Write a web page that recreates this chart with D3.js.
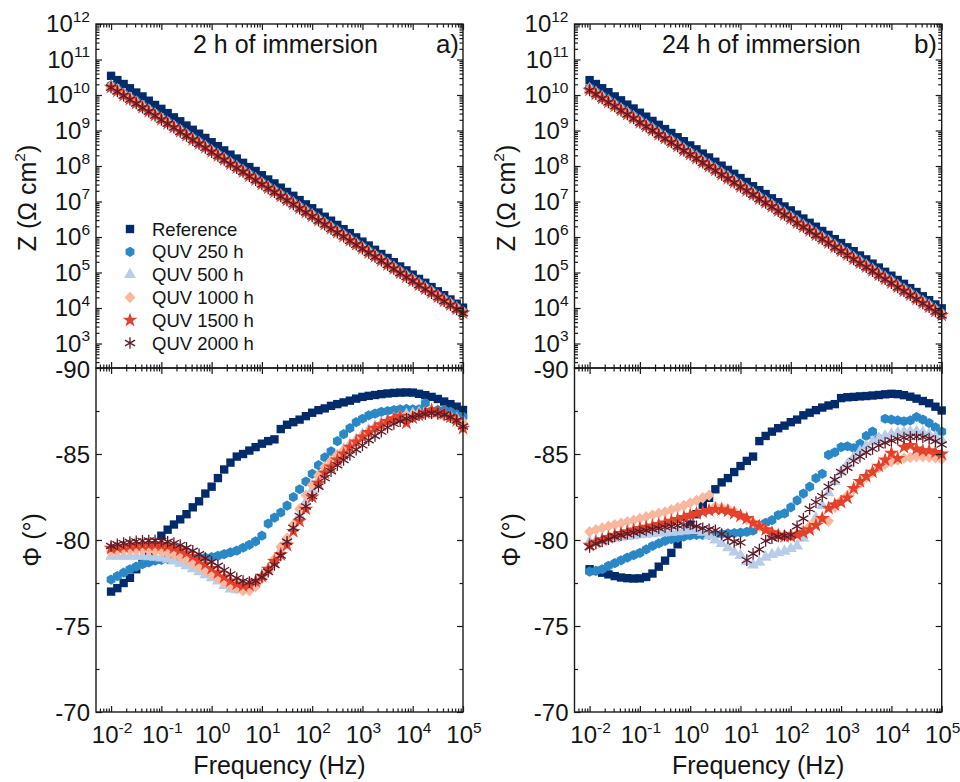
<!DOCTYPE html>
<html><head><meta charset="utf-8">
<script src="https://cdn.jsdelivr.net/npm/d3@7"></script>
<style>
body{margin:0;background:#fff}
svg{display:block}
text{font-family:"Liberation Sans",Arial,Helvetica,sans-serif;fill:#141414}
</style>
</head><body>
<svg id="c" width="960" height="782"></svg>
<script>
// ---------------- DATA ----------------
const freq = [0.01,0.01334,0.01778,0.02371,0.03162,0.04217,0.05623,0.07499,
  0.1,0.1334,0.1778,0.2371,0.3162,0.4217,0.5623,0.7499,
  1,1.334,1.778,2.371,3.162,4.217,5.623,7.499,
  10,13.34,17.78,23.71,31.62,42.17,56.23,74.99,
  100,133.4,177.8,237.1,316.2,421.7,562.3,749.9,
  1000,1334,1778,2371,3162,4217,5623,7499,
  10000,13340,17780,23710,31620,42170,56230,74990,100000];

const seriesNames = ["Reference","QUV 250 h","QUV 500 h","QUV 1000 h","QUV 1500 h","QUV 2000 h"];
const seriesColors = ["#022b6c","#2a88c6","#b9cde9","#f9b89e","#e4412b","#5e1a27"];

const panelTitles = ["2 h of immersion","24 h of immersion"];
const panelTags = ["a)","b)"];
const zTickExp = [3,4,5,6,7,8,9,10,11,12];
const phaseTicks = [-85,-80,-75,-70];
const freqTickExp = [-2,-1,0,1,2,3,4,5];

// log10 |Z| (Ohm cm2), panel a (2 h)
const logZ_a_ref  = [10.54,10.42,10.31,10.19,10.07,9.96,9.84,9.72,9.61,9.49,9.37,9.26,9.14,9.02,8.91,8.79,8.67,8.56,8.44,8.32,8.21,8.09,7.97,7.86,7.74,7.62,7.51,7.39,7.27,7.16,7.04,6.92,6.81,6.69,6.57,6.46,6.34,6.22,6.11,5.99,5.87,5.76,5.64,5.52,5.41,5.29,5.17,5.06,4.94,4.82,4.71,4.59,4.47,4.36,4.24,4.12,4.01];
const logZ_a_250  = [10.27,10.16,10.04,9.93,9.82,9.70,9.59,9.48,9.36,9.25,9.14,9.02,8.91,8.79,8.68,8.57,8.45,8.34,8.23,8.11,8.00,7.89,7.77,7.66,7.54,7.43,7.32,7.20,7.09,6.98,6.86,6.75,6.64,6.52,6.41,6.29,6.18,6.07,5.95,5.84,5.73,5.61,5.50,5.39,5.27,5.16,5.04,4.93,4.82,4.70,4.59,4.48,4.36,4.25,4.14,4.02,3.91];
const logZ_a_500  = [10.25,10.14,10.02,9.91,9.80,9.68,9.57,9.46,9.34,9.23,9.12,9.00,8.89,8.77,8.66,8.55,8.43,8.32,8.21,8.09,7.98,7.87,7.75,7.64,7.52,7.41,7.30,7.18,7.07,6.96,6.84,6.73,6.62,6.50,6.39,6.27,6.16,6.05,5.93,5.82,5.71,5.59,5.48,5.37,5.25,5.14,5.02,4.91,4.80,4.68,4.57,4.46,4.34,4.23,4.12,4.00,3.89];
const logZ_a_1000 = [10.24,10.13,10.01,9.90,9.79,9.67,9.56,9.45,9.33,9.22,9.11,8.99,8.88,8.76,8.65,8.54,8.42,8.31,8.20,8.08,7.97,7.86,7.74,7.63,7.51,7.40,7.29,7.17,7.06,6.95,6.83,6.72,6.61,6.49,6.38,6.26,6.15,6.04,5.92,5.81,5.70,5.58,5.47,5.36,5.24,5.13,5.01,4.90,4.79,4.67,4.56,4.45,4.33,4.22,4.11,3.99,3.88];
const logZ_a_1500 = [10.22,10.11,9.99,9.88,9.77,9.65,9.54,9.43,9.31,9.20,9.09,8.97,8.86,8.74,8.63,8.52,8.40,8.29,8.18,8.06,7.95,7.84,7.72,7.61,7.49,7.38,7.27,7.15,7.04,6.93,6.81,6.70,6.59,6.47,6.36,6.24,6.13,6.02,5.90,5.79,5.68,5.56,5.45,5.34,5.22,5.11,4.99,4.88,4.77,4.65,4.54,4.43,4.31,4.20,4.09,3.97,3.86];
const logZ_a_2000 = [10.21,10.10,9.98,9.87,9.76,9.64,9.53,9.42,9.30,9.19,9.08,8.96,8.85,8.73,8.62,8.51,8.39,8.28,8.17,8.05,7.94,7.83,7.71,7.60,7.48,7.37,7.26,7.14,7.03,6.92,6.80,6.69,6.58,6.46,6.35,6.23,6.12,6.01,5.89,5.78,5.67,5.55,5.44,5.33,5.21,5.10,4.98,4.87,4.76,4.64,4.53,4.42,4.30,4.19,4.08,3.96,3.85];

// log10 |Z|, panel b (24 h)
const logZ_b_ref  = [10.42,10.31,10.19,10.08,9.96,9.85,9.73,9.62,9.50,9.39,9.27,9.16,9.04,8.93,8.81,8.70,8.58,8.47,8.35,8.24,8.12,8.01,7.89,7.78,7.66,7.55,7.43,7.32,7.21,7.09,6.98,6.86,6.75,6.63,6.52,6.40,6.29,6.17,6.06,5.94,5.83,5.71,5.60,5.48,5.37,5.25,5.14,5.02,4.91,4.79,4.68,4.56,4.45,4.33,4.22,4.10,3.99];
const logZ_b_250  = [10.20,10.09,9.97,9.86,9.75,9.63,9.52,9.41,9.29,9.18,9.07,8.95,8.84,8.73,8.62,8.50,8.39,8.28,8.16,8.05,7.94,7.82,7.71,7.60,7.48,7.37,7.26,7.14,7.03,6.92,6.80,6.69,6.58,6.46,6.35,6.24,6.12,6.01,5.90,5.78,5.67,5.56,5.44,5.33,5.22,5.11,4.99,4.88,4.77,4.65,4.54,4.43,4.31,4.20,4.09,3.97,3.86];
const logZ_b_500  = [10.18,10.07,9.95,9.84,9.73,9.61,9.50,9.39,9.27,9.16,9.05,8.93,8.82,8.71,8.60,8.48,8.37,8.26,8.14,8.03,7.92,7.80,7.69,7.58,7.46,7.35,7.24,7.12,7.01,6.90,6.78,6.67,6.56,6.44,6.33,6.22,6.10,5.99,5.88,5.76,5.65,5.54,5.42,5.31,5.20,5.09,4.97,4.86,4.75,4.63,4.52,4.41,4.29,4.18,4.07,3.95,3.84];
const logZ_b_1000 = [10.16,10.05,9.93,9.82,9.71,9.59,9.48,9.37,9.25,9.14,9.03,8.91,8.80,8.69,8.58,8.46,8.35,8.24,8.12,8.01,7.90,7.78,7.67,7.56,7.44,7.33,7.22,7.10,6.99,6.88,6.76,6.65,6.54,6.42,6.31,6.20,6.08,5.97,5.86,5.74,5.63,5.52,5.40,5.29,5.18,5.07,4.95,4.84,4.73,4.61,4.50,4.39,4.27,4.16,4.05,3.93,3.82];
const logZ_b_1500 = [10.14,10.03,9.91,9.80,9.69,9.57,9.46,9.35,9.23,9.12,9.01,8.89,8.78,8.67,8.56,8.44,8.33,8.22,8.10,7.99,7.88,7.76,7.65,7.54,7.42,7.31,7.20,7.08,6.97,6.86,6.74,6.63,6.52,6.40,6.29,6.18,6.06,5.95,5.84,5.72,5.61,5.50,5.38,5.27,5.16,5.05,4.93,4.82,4.71,4.59,4.48,4.37,4.25,4.14,4.03,3.91,3.80];
const logZ_b_2000 = [10.13,10.02,9.90,9.79,9.68,9.56,9.45,9.34,9.22,9.11,9.00,8.88,8.77,8.66,8.55,8.43,8.32,8.21,8.09,7.98,7.87,7.75,7.64,7.53,7.41,7.30,7.19,7.07,6.96,6.85,6.73,6.62,6.51,6.39,6.28,6.17,6.05,5.94,5.83,5.71,5.60,5.49,5.37,5.26,5.15,5.04,4.92,4.81,4.70,4.58,4.47,4.36,4.24,4.13,4.02,3.90,3.79];

// phase angle (deg), panel a (2 h)
const phase_a_ref  = [-77.0,-77.2,-77.5,-77.8,-78.3,-78.8,-79.2,-79.6,-80.25,-80.6,-80.9,-81.2,-81.5,-81.9,-82.25,-82.7,-83.1,-83.6,-84.1,-84.5,-84.85,-85.0,-85.2,-85.4,-85.6,-85.75,-85.85,-86.45,-86.7,-86.85,-87.0,-87.2,-87.4,-87.55,-87.65,-87.8,-87.9,-88.0,-88.1,-88.22,-88.32,-88.38,-88.43,-88.48,-88.52,-88.55,-88.57,-88.58,-88.57,-88.5,-88.42,-88.32,-88.2,-88.05,-87.9,-87.75,-87.56];
const phase_a_250  = [-77.7,-77.9,-78.1,-78.3,-78.45,-78.6,-78.7,-78.8,-78.85,-78.9,-78.92,-78.93,-78.93,-78.94,-78.96,-78.98,-79.0,-79.08,-79.18,-79.28,-79.38,-79.55,-79.72,-79.92,-80.25,-80.95,-81.3,-81.6,-82.0,-82.5,-82.95,-83.4,-83.85,-84.35,-84.8,-85.15,-85.75,-86.15,-86.5,-86.85,-87.05,-87.25,-87.35,-87.45,-87.5,-87.55,-87.6,-87.62,-87.6,-87.6,-87.95,-87.5,-87.55,-87.55,-87.45,-87.3,-87.17];
const phase_a_500  = [-79.05,-79.05,-79.05,-79.05,-79.05,-79.05,-79.03,-79.0,-78.95,-78.88,-78.78,-78.65,-78.5,-78.33,-78.15,-77.97,-77.8,-77.62,-77.35,-77.15,-77.1,-77.15,-77.3,-77.55,-77.9,-78.3,-78.8,-79.4,-80.0,-80.7,-81.4,-82.2,-82.9,-83.5,-84.05,-84.5,-84.9,-85.25,-85.55,-85.85,-86.15,-86.4,-86.6,-86.8,-86.95,-87.1,-87.2,-87.3,-87.35,-87.4,-87.42,-87.4,-87.35,-87.28,-87.18,-87.05,-86.9];
const phase_a_1000 = [-79.33,-79.36,-79.39,-79.41,-79.42,-79.42,-79.4,-79.37,-79.33,-79.25,-79.15,-79.02,-78.85,-78.65,-78.45,-78.22,-78.0,-77.78,-77.55,-77.35,-77.18,-77.05,-77.05,-77.3,-77.75,-78.2,-78.9,-79.6,-80.1,-80.9,-81.8,-82.6,-83.2,-83.75,-84.25,-84.6,-84.95,-85.2,-85.45,-85.75,-86.05,-86.3,-86.5,-86.7,-86.9,-87.0,-87.1,-87.2,-87.3,-87.35,-87.37,-87.35,-87.3,-87.22,-87.1,-86.95,-86.8];
const phase_a_1500 = [-79.52,-79.58,-79.63,-79.67,-79.7,-79.72,-79.72,-79.72,-79.7,-79.65,-79.55,-79.42,-79.25,-79.05,-78.82,-78.6,-78.35,-78.1,-77.85,-77.62,-77.45,-77.35,-77.38,-77.6,-77.9,-78.3,-78.75,-79.15,-79.7,-80.5,-81.1,-81.8,-82.5,-83.3,-83.9,-84.25,-84.65,-85.0,-85.4,-85.7,-86.0,-86.25,-86.5,-86.7,-86.9,-87.05,-87.2,-86.8,-87.1,-87.25,-87.4,-87.55,-87.45,-87.35,-87.15,-86.95,-86.5];
const phase_a_2000 = [-79.65,-79.75,-79.82,-79.88,-79.92,-79.95,-79.97,-79.97,-79.95,-79.9,-79.82,-79.7,-79.55,-79.37,-79.17,-78.95,-78.72,-78.5,-78.25,-78.0,-77.78,-77.62,-77.55,-77.62,-77.85,-78.15,-78.55,-79.1,-79.9,-80.7,-81.4,-81.95,-82.55,-83.1,-83.6,-84.0,-84.35,-84.65,-84.95,-85.25,-85.5,-85.8,-86.05,-86.3,-86.55,-86.75,-86.9,-87.05,-87.15,-87.25,-87.33,-87.37,-87.35,-87.28,-87.15,-86.95,-86.6];

// phase angle (deg), panel b (24 h)
const phase_b_ref  = [-78.3,-78.2,-78.1,-78.0,-77.9,-77.82,-77.78,-77.76,-77.77,-77.85,-78.05,-78.45,-78.8,-79.25,-79.75,-80.35,-80.9,-81.5,-82.05,-82.45,-82.95,-83.35,-83.6,-83.95,-84.3,-84.6,-84.85,-85.75,-86.05,-86.3,-86.5,-86.65,-86.85,-87.0,-87.25,-87.4,-87.55,-87.7,-87.82,-87.9,-88.25,-88.3,-88.32,-88.35,-88.37,-88.4,-88.43,-88.47,-88.5,-88.48,-88.42,-88.33,-88.22,-88.08,-87.95,-87.75,-87.53];
const phase_b_250  = [-78.16,-78.2,-78.3,-78.5,-78.65,-78.82,-78.98,-79.12,-79.25,-79.45,-79.65,-79.8,-79.95,-80.05,-80.12,-80.2,-80.27,-80.3,-80.3,-80.3,-80.32,-80.35,-80.38,-80.4,-80.43,-80.47,-80.55,-80.85,-81.0,-81.15,-81.45,-81.55,-81.9,-82.3,-82.7,-83.1,-83.6,-83.85,-84.95,-85.1,-85.4,-85.45,-85.35,-85.6,-86.05,-86.3,-85.9,-87.05,-87.0,-86.95,-86.9,-86.95,-87.15,-87.0,-86.8,-86.55,-86.3];
const phase_b_500  = [-79.9,-79.95,-80.0,-80.05,-80.1,-80.15,-80.2,-80.25,-80.3,-80.33,-80.36,-80.4,-80.42,-80.45,-80.48,-80.52,-80.55,-80.55,-80.45,-80.25,-80.0,-79.8,-79.55,-79.3,-79.1,-78.75,-78.55,-78.7,-79.0,-79.15,-79.25,-79.35,-79.5,-79.65,-80.1,-80.6,-81.3,-82.0,-82.75,-83.4,-83.95,-84.4,-84.8,-85.15,-85.45,-85.7,-85.9,-86.05,-86.15,-86.22,-86.28,-86.3,-86.3,-86.25,-86.15,-86.0,-85.8];
const phase_b_1000 = [-80.48,-80.6,-80.7,-80.8,-80.88,-80.97,-81.06,-81.15,-81.25,-81.35,-81.45,-81.55,-81.63,-81.75,-81.88,-82.0,-82.15,-82.3,-82.45,-82.6,-81.95,-81.87,-81.8,-81.65,-81.45,-81.2,-81.0,-80.8,-80.6,-80.45,-80.35,-80.28,-80.3,-80.38,-80.55,-80.8,-81.05,-81.25,-81.1,-81.9,-82.3,-82.6,-82.95,-83.3,-83.65,-83.95,-84.2,-84.4,-84.55,-84.65,-84.75,-84.8,-84.85,-84.85,-84.82,-84.78,-84.7];
const phase_b_1500 = [-79.7,-79.88,-80.02,-80.15,-80.28,-80.38,-80.48,-80.58,-80.67,-80.75,-80.82,-80.9,-81.0,-81.1,-81.2,-81.32,-81.44,-81.54,-81.64,-81.72,-81.78,-81.76,-81.68,-81.55,-81.4,-81.25,-81.0,-80.8,-80.6,-80.42,-80.28,-80.2,-80.22,-80.3,-80.42,-80.6,-80.85,-81.25,-81.85,-82.05,-82.2,-82.45,-83.0,-83.4,-83.7,-83.95,-84.3,-84.65,-85.05,-84.75,-85.4,-85.5,-85.3,-85.2,-85.2,-85.1,-85.0];
const phase_b_2000 = [-79.6,-79.78,-79.92,-80.05,-80.2,-80.28,-80.36,-80.42,-80.48,-80.55,-80.62,-80.68,-80.75,-80.8,-80.84,-80.88,-80.92,-80.8,-80.68,-80.62,-80.57,-80.35,-80.1,-79.9,-79.85,-78.83,-79.2,-79.45,-79.95,-80.1,-80.2,-80.25,-80.3,-80.8,-81.25,-81.8,-82.2,-82.55,-83.1,-83.5,-83.95,-84.2,-84.6,-84.85,-85.1,-85.3,-85.5,-85.65,-85.78,-85.88,-85.95,-86.0,-86.0,-85.98,-85.9,-85.75,-85.55];

// ---------------- LAYOUT ----------------
const Y_TOP = 24, Y_MID = 368, Y_BOT = 712;
const panels = [
  {x0:96,  x1:463,   titleX:193, tagX:459, logZ:[logZ_a_ref,logZ_a_250,logZ_a_500,logZ_a_1000,logZ_a_1500,logZ_a_2000],
   phase:[phase_a_ref,phase_a_250,phase_a_500,phase_a_1000,phase_a_1500,phase_a_2000], legend:true},
  {x0:574.5, x1:941.7, titleX:662, tagX:937, logZ:[logZ_b_ref,logZ_b_250,logZ_b_500,logZ_b_1000,logZ_b_1500,logZ_b_2000],
   phase:[phase_b_ref,phase_b_250,phase_b_500,phase_b_1000,phase_b_1500,phase_b_2000], legend:false}
];
const FS = 24, TFS = 25, SUP = 15.5, AXC = "#1a1a1a";

const svg = d3.select("#c");
svg.append("rect").attr("width",960).attr("height",782).attr("fill","#fff");

// marker shapes
function hexPath(r){ const p=[]; for(let k=0;k<6;k++){const a=Math.PI/2+k*Math.PI/3; p.push([r*Math.cos(a), r*Math.sin(a)]);} return "M"+p.map(q=>q[0].toFixed(2)+","+q[1].toFixed(2)).join("L")+"Z"; }
function diamondPath(w,h){ return `M0,${-h}L${w},0L0,${h}L${-w},0Z`; }
function asteriskPath(r){ const s=r*Math.cos(Math.PI/6), c=r*Math.sin(Math.PI/6);
  return `M0,${-r}L0,${r}M${-s},${-c}L${s},${c}M${-s},${c}L${s},${-c}`; }
const shapes = [
  d3.symbol(d3.symbolSquare, 70)(),
  hexPath(5.1),
  d3.symbol(d3.symbolTriangle, 62)(),
  diamondPath(5.4,5.8),
  d3.symbol(d3.symbolStar, 68)(),
  asteriskPath(5.8)
];
function drawMarker(g, i, x, y){
  const p = g.append("path").attr("d", shapes[i]).attr("transform", `translate(${x},${y})`);
  if(i===5){ p.attr("fill","none").attr("stroke",seriesColors[i]).attr("stroke-width",1.3); }
  else { p.attr("fill",seriesColors[i]); }
}

function logTicks(lo, hi){
  const maj=[], min=[];
  for(let d=Math.floor(Math.log10(lo)); d<=Math.ceil(Math.log10(hi)); d++){
    for(let m=1;m<=9;m++){ const v=m*Math.pow(10,d); if(v>=lo*0.9999 && v<=hi*1.0001){ (m===1?maj:min).push(v);} }
  }
  return {maj, min};
}
function addSup(t, base, exp){
  t.append("tspan").text(base);
  t.append("tspan").attr("dy", -10.5).attr("font-size", SUP).text(exp);
}

panels.forEach((P, pi) => {
  const g = svg.append("g");
  const x = d3.scaleLog().domain([Math.pow(10,-2.3), 1e5]).range([P.x0, P.x1]);
  const yZ = d3.scaleLog().domain([Math.pow(10,2.31), 1e12]).range([Y_MID, Y_TOP]);
  const yP = d3.scaleLinear().domain([-90, -70]).range([Y_MID, Y_BOT]);
  const W = P.x1 - P.x0;

  // ---- data: |Z|
  const gz = g.append("g");
  P.logZ.forEach((arr, si) => {
    arr.forEach((v, k) => drawMarker(gz, si, x(freq[k]), yZ(Math.pow(10, v))));
  });
  // ---- data: phase
  const gp = g.append("g");
  P.phase.forEach((arr, si) => {
    arr.forEach((v, k) => drawMarker(gp, si, x(freq[k]), yP(v)));
  });

  // ---- axes (inward ticks)
  const xt = logTicks(Math.pow(10,-2.3), 1e5);
  const zt = logTicks(Math.pow(10,2.31), 1e12);
  const ax = g.append("g").attr("color", AXC);
  function tk(gen, scale, vals, size, tr){
    ax.append("g").attr("transform", tr)
      .call(gen(scale).tickValues(vals).tickSize(size).tickFormat(""))
      .call(s => { s.select(".domain").remove(); s.selectAll("line").attr("stroke-width",1.2); });
  }
  [[d3.axisTop, Y_TOP],[d3.axisBottom, Y_MID],[d3.axisTop, Y_MID],[d3.axisBottom, Y_BOT]].forEach(([gen, yy]) => {
    tk(gen, x, xt.maj, -6, `translate(0,${yy})`);
    tk(gen, x, xt.min, -3.5, `translate(0,${yy})`);
  });
  tk(d3.axisLeft, yZ, zt.maj, -6, `translate(${P.x0},0)`);
  tk(d3.axisLeft, yZ, zt.min, -3.5, `translate(${P.x0},0)`);
  tk(d3.axisRight, yZ, zt.maj, -6, `translate(${P.x1},0)`);
  tk(d3.axisRight, yZ, zt.min, -3.5, `translate(${P.x1},0)`);
  const pMaj = [-90,-85,-80,-75,-70], pMin = [-87.5,-82.5,-77.5,-72.5];
  tk(d3.axisLeft, yP, pMaj, -6, `translate(${P.x0},0)`);
  tk(d3.axisLeft, yP, pMin, -3.5, `translate(${P.x0},0)`);
  tk(d3.axisRight, yP, pMaj, -6, `translate(${P.x1},0)`);
  tk(d3.axisRight, yP, pMin, -3.5, `translate(${P.x1},0)`);

  ax.append("rect").attr("x",P.x0).attr("y",Y_TOP).attr("width",W).attr("height",Y_MID-Y_TOP)
    .attr("fill","none").attr("stroke",AXC).attr("stroke-width",1.4);
  ax.append("rect").attr("x",P.x0).attr("y",Y_MID).attr("width",W).attr("height",Y_BOT-Y_MID)
    .attr("fill","none").attr("stroke",AXC).attr("stroke-width",1.4);

  // tick labels
  const lab = g.append("g").attr("font-size", FS);
  zTickExp.forEach(e => {
    const t = lab.append("text").attr("x", P.x0-6).attr("y", yZ(Math.pow(10,e))+8).attr("text-anchor","end");
    addSup(t, "10", String(e));
  });
  lab.append("text").attr("x", P.x0-6).attr("y", yP(-90)+10).attr("text-anchor","end").text("-90");
  phaseTicks.forEach(v => {
    lab.append("text").attr("x", P.x0-6).attr("y", yP(v)+8.5).attr("text-anchor","end").text(String(v));
  });
  freqTickExp.forEach(e => {
    const t = lab.append("text").attr("x", x(Math.pow(10,e))+1).attr("y", Y_BOT+31).attr("text-anchor","middle");
    addSup(t, "10", String(e));
  });

  // axis titles
  const zt1 = lab.append("text").attr("text-anchor","middle").attr("font-size", TFS)
    .attr("transform", `translate(${P.x0-60},${(Y_TOP+Y_MID)/2+2}) rotate(-90)`);
  zt1.append("tspan").text("Z (\u03A9 cm");
  zt1.append("tspan").attr("dy",-11).attr("font-size",SUP).text("2");
  zt1.append("tspan").attr("dy",11).text(")");
  lab.append("text").attr("text-anchor","middle").attr("font-size", TFS)
    .attr("transform", `translate(${P.x0-55},${(Y_MID+Y_BOT)/2}) rotate(-90)`).text("\u03A6 (\u00B0)");
  lab.append("text").attr("x", (P.x0+P.x1)/2).attr("y", 774).attr("text-anchor","middle").attr("font-size", TFS).text("Frequency (Hz)");

  // annotations
  lab.append("text").attr("x", P.titleX).attr("y", 53).attr("font-size", TFS).text(panelTitles[pi]);
  lab.append("text").attr("x", P.tagX).attr("y", 53).attr("text-anchor","end").attr("font-size", 26).text(panelTags[pi]);

  // legend
  if (P.legend) {
    const lg = g.append("g");
    seriesNames.forEach((n, i) => {
      const cy = 229 + i*22.8;
      drawMarker(lg, i, 130, cy);
      lg.append("text").attr("x", 152).attr("y", cy+6.5).attr("font-size", 18.5).text(n);
    });
  }
});
</script>
</body></html>
